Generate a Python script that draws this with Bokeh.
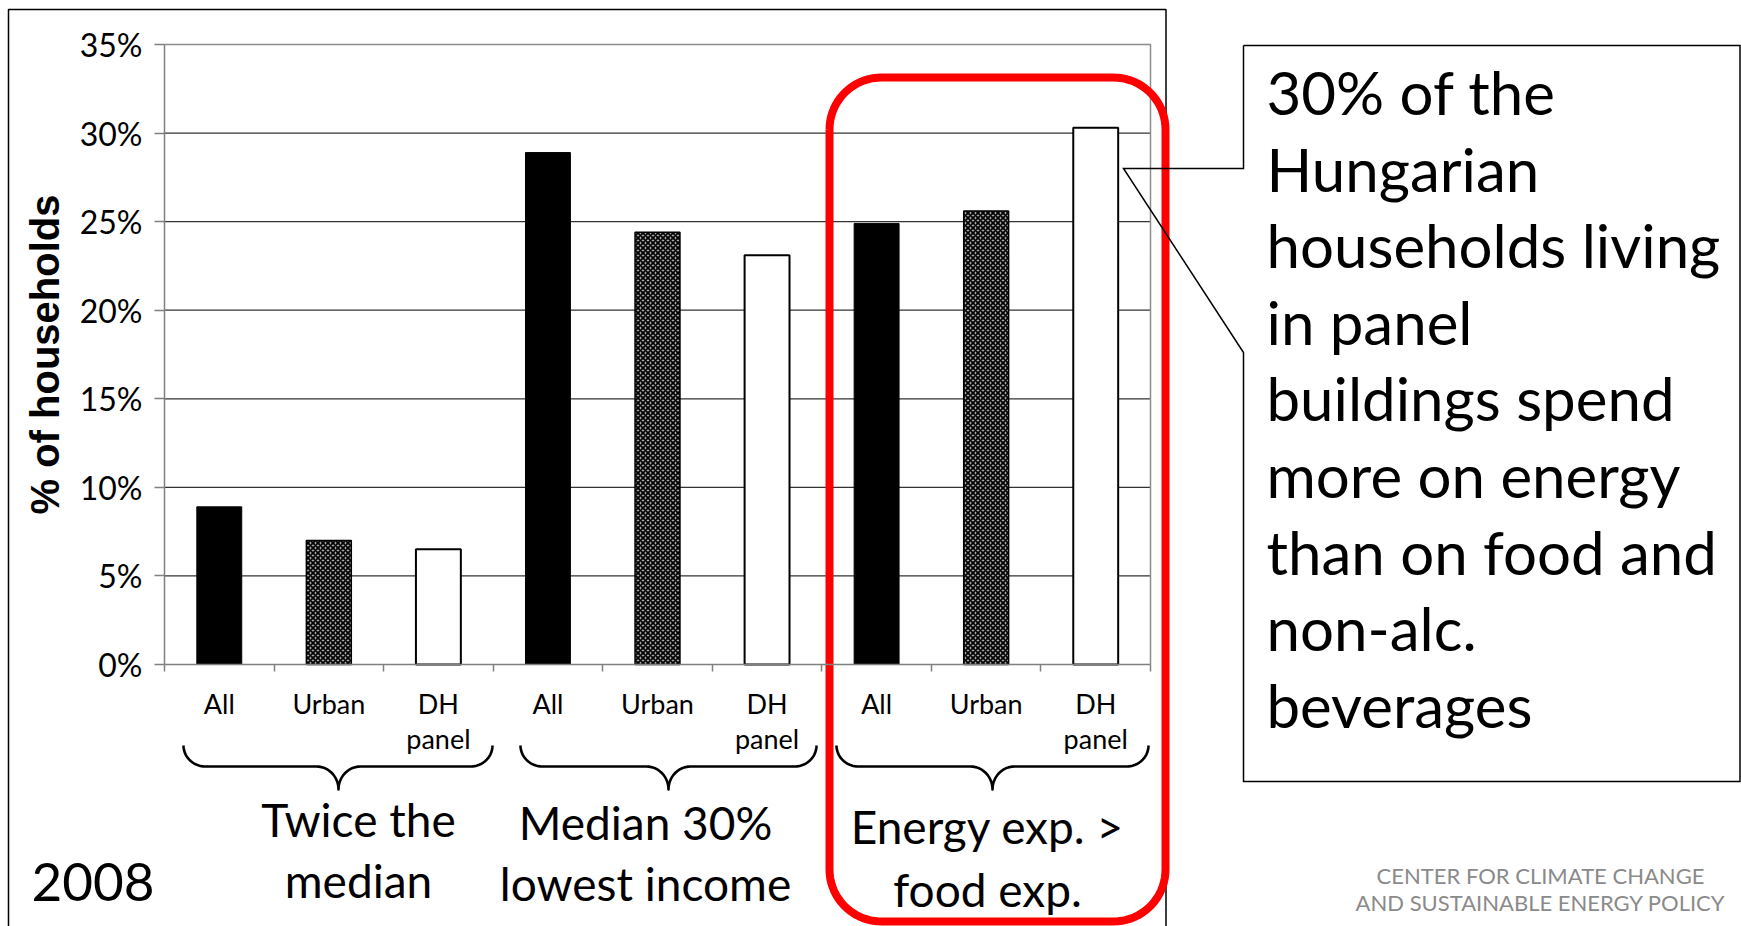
import numpy as np
from bokeh.plotting import figure
from bokeh.models import Range1d, FixedTicker, PrintfTickFormatter
from bokeh.core.properties import value
from bokeh.embed import file_html
from bokeh.resources import INLINE

# ---- data -------------------------------------------------------------
groups = ["Twice the median", "Median 30% lowest income", "Energy exp. > food exp."]
group_lines = [["Twice the", "median"], ["Median 30%", "lowest income"], ["Energy exp. >", "food exp."]]
subgroups = ["All", "Urban", "DH panel"]
sub_labels = ["All", "Urban", "DH\npanel"]
share_all = [8.9, 28.9, 24.9]      # % of households
share_urban = [7.0, 24.4, 25.6]
share_dh_panel = [6.5, 23.1, 30.3]
y_ticks = [0, 5, 10, 15, 20, 25, 30, 35]
year = "2008"
callout_lines = ["30% of the", "Hungarian", "households living", "in panel",
                 "buildings spend", "more on energy", "than on food and",
                 "non-alc.", "beverages"]
logo_lines = ["CENTER FOR CLIMATE CHANGE", "AND SUSTAINABLE ENERGY POLICY"]

# ---- canvas geometry (pixels) ----------------------------------------
W, H = 1741, 926
PL, PR, PT, PB = 164, 1150, 44, 664          # plot area on the canvas
YMAX = y_ticks[-1]
N_CAT = len(groups) * len(subgroups)
SX = (PR - PL) / N_CAT
SY = (PB - PT) / YMAX


def X(px):
    return (np.asarray(px, dtype=float) - PL) / SX


def Y(py):
    return (PB - np.asarray(py, dtype=float)) / SY


def base_y(py, fs):
    # text glyphs sit a little low on their baseline; lift them by ~0.41 em
    return Y(np.asarray(py, dtype=float) - 0.41 * fs)


FONT = "Lato"

p = figure(width=W, height=H, title=None,
           x_range=Range1d(float(X(0)), float(X(W))),
           y_range=Range1d(float(Y(H)), float(Y(0))),
           output_backend="svg", toolbar_location=None,
           min_border=0, outline_line_color=None)
p.background_fill_color = "white"
p.border_fill_color = "white"
p.xgrid.visible = False
p.ygrid.visible = False

# ---- axes -------------------------------------------------------------
centers = [i + 0.5 for i in range(N_CAT)]
xa = p.xaxis[0]
xa.fixed_location = 0
xa.bounds = (0, N_CAT)
xa.ticker = FixedTicker(ticks=centers, minor_ticks=list(range(N_CAT + 1)))
xa.major_label_overrides = {c: sub_labels[i % 3] for i, c in enumerate(centers)}
xa.axis_line_color = "#808080"
xa.axis_line_width = 1.5
xa.major_tick_out = 0
xa.major_tick_in = 0
xa.minor_tick_out = 7
xa.minor_tick_in = 0
xa.minor_tick_line_color = "#808080"
xa.minor_tick_line_width = 1.5
xa.major_label_standoff = 15
xa.major_label_text_font = FONT
xa.major_label_text_font_size = "27px"
xa.major_label_text_color = "black"
xa.major_label_text_line_height = 1.08

ya = p.yaxis[0]
ya.fixed_location = 0
ya.bounds = (0, YMAX)
ya.ticker = FixedTicker(ticks=y_ticks)
ya.formatter = PrintfTickFormatter(format="%d%%")
ya.axis_line_color = "#808080"
ya.axis_line_width = 1.5
ya.major_tick_out = 10
ya.major_tick_in = 0
ya.major_tick_line_color = "#808080"
ya.major_tick_line_width = 1.5
ya.minor_tick_out = 0
ya.minor_tick_in = 0
ya.major_label_standoff = 12
ya.major_label_text_font = FONT
ya.major_label_text_font_size = "32px"
ya.major_label_text_color = "black"
ya.axis_label = "% of households"
ya.axis_label_text_font = "Liberation Sans"
ya.axis_label_text_font_style = "bold"
ya.axis_label_text_font_size = "40px"
ya.axis_label_text_color = "black"
ya.axis_label_standoff = 10

# ---- gridlines and plot-area border ----------------------------------
inner = [t for t in y_ticks if 0 < t < YMAX]
p.segment(x0=[0] * len(inner), x1=[N_CAT] * len(inner), y0=inner, y1=inner,
          line_color="#333333", line_width=1.2)
p.line(x=[0, N_CAT, N_CAT], y=[YMAX, YMAX, 0], line_color="#8c8c8c", line_width=1.5)

# ---- bars -------------------------------------------------------------
BAR_W = 0.41
x_all = [3 * g + 0.5 for g in range(3)]
x_urban = [3 * g + 1.5 for g in range(3)]
x_dh = [3 * g + 2.5 for g in range(3)]
p.vbar(x=x_all, top=share_all, bottom=0, width=BAR_W,
       fill_color="black", line_color="black", line_width=1)
p.vbar(x=x_urban, top=share_urban, bottom=0, width=BAR_W,
       fill_color="#a6a6a6", hatch_pattern="diagonal_cross", hatch_color="black",
       hatch_scale=5, hatch_weight=1.7, line_color="black", line_width=1.5)
p.vbar(x=x_dh, top=share_dh_panel, bottom=0, width=BAR_W,
       fill_color="white", line_color="black", line_width=2)


# ---- group braces -----------------------------------------------------
def brace_path(xl, xr, xc, ytop=745, ymid=766, ytip=789, r_end=22, r_mid=22, n=18):
    t = np.linspace(0, np.pi / 2, n)
    ry1, ry2 = ymid - ytop, ytip - ymid
    x1 = xl + r_end - r_end * np.cos(t); y1 = ytop + ry1 * np.sin(t)
    x2 = xc - r_mid + r_mid * np.sin(t); y2 = ytip - ry2 * np.cos(t)
    x3 = xc + r_mid - r_mid * np.cos(t); y3 = ytip - ry2 * np.sin(t)
    x4 = xr - r_end + r_end * np.sin(t); y4 = ytop + ry1 * np.cos(t)
    return np.concatenate([x1, x2, x3, x4]), np.concatenate([y1, y2, y3, y4])


brace_spans = [(183, 492, 338), (520, 816, 668), (836, 1148, 992)]
for xl, xr, xc in brace_spans:
    bx, by = brace_path(xl, xr, xc)
    p.line(x=X(bx), y=Y(by), line_color="black", line_width=2.6, line_join="round")

# ---- group captions ---------------------------------------------------
CAP_FS = 46
caption_pos = [(358, 838, 899), (645, 841, 902), (987, 845, 908)]
for (cx, b1, b2), lines in zip(caption_pos, group_lines):
    p.text(x=[float(X(cx))] * 2, y=[float(v) for v in base_y([b1, b2], CAP_FS)], text=lines,
           text_align="center", text_baseline="alphabetic",
           text_font=value(FONT), text_font_size=f"{CAP_FS}px", text_color="black")

YEAR_FS = 53
p.text(x=[float(X(31))], y=[float(base_y(903, YEAR_FS))], text=[year], text_align="left",
       text_baseline="alphabetic", text_font=value(FONT), text_font_size=f"{YEAR_FS}px",
       text_color="black")

# ---- outer frame of the chart ----------------------------------------
p.line(x=X([8, 8, 1165.5, 1165.5]), y=Y([940, 9, 9, 940]),
       line_color="black", line_width=1.5)


# ---- red highlight round the third group ------------------------------
def rounded_rect(l, r, t, b, rad, n=20):
    a = np.linspace(0, np.pi / 2, n)
    xs = np.concatenate([l + rad - rad * np.cos(a), r - rad + rad * np.sin(a),
                         r - rad + rad * np.cos(a), l + rad - rad * np.sin(a), [l]])
    ys = np.concatenate([t + rad - rad * np.sin(a), t + rad - rad * np.cos(a),
                         b - rad + rad * np.sin(a), b - rad + rad * np.cos(a), [t + rad]])
    return xs, ys


rx, ry = rounded_rect(829, 1165, 77, 921, 52)
p.line(x=X(rx), y=Y(ry), line_color="#ff0000", line_width=8, line_join="round")

# ---- callout box ------------------------------------------------------
cx = [1243, 1739.5, 1739.5, 1243, 1243, 1123, 1243, 1243]
cy = [45, 45, 781, 781, 352, 168, 168, 45]
p.line(x=X(cx), y=Y(cy), line_color="black", line_width=1.5, line_join="miter")

CALL_FS = 60
base = [116 + 76.6 * i for i in range(len(callout_lines))]
p.text(x=[float(X(1266))] * len(callout_lines), y=[float(v) for v in base_y(base, CALL_FS)],
       text=callout_lines, text_align="left", text_baseline="alphabetic",
       text_font=value(FONT), text_font_size=f"{CALL_FS}px", text_color="black")

# ---- institute name ---------------------------------------------------
LOGO_FS = 22
p.text(x=[float(X(1540))] * 2, y=[float(v) for v in base_y([884, 911], LOGO_FS)],
       text=logo_lines, text_align="center", text_baseline="alphabetic",
       text_font=value(FONT), text_font_size=f"{LOGO_FS}px", text_color="#8a8a8a")

open("out.html", "w").write(file_html(p, INLINE))
